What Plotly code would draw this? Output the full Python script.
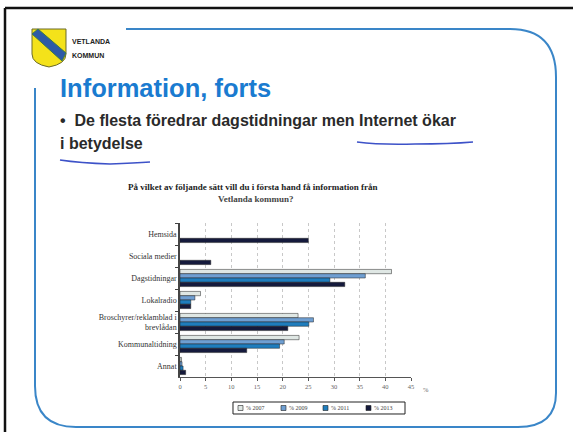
import plotly.graph_objects as go

W, H = 573, 432

categories = ["Hemsida", "Sociala medier", "Dagstidningar", "Lokalradio",
              "Broschyrer/reklamblad i<br>brevlådan", "Kommunaltidning", "Annat"]
years = ["% 2007", "% 2009", "% 2011", "% 2013"]
v2007 = [None, None, 41.2, 4.0, 23.0, 23.2, 0.3]
v2009 = [None, None, 36.1, 2.9, 26.0, 20.3, 0.4]
v2011 = [None, None, 29.2, 2.1, 25.1, 19.4, 0.6]
v2013 = [25.0, 6.0, 32.1, 2.1, 21.0, 13.0, 1.1]
series = [v2007, v2009, v2011, v2013]
colors = ["#dfe7e4", "#6f9fd2", "#1f7dbd", "#151a3c"]
xticks = [0, 5, 10, 15, 20, 25, 30, 35, 40, 45]


def px(x, y):
    return x / W, 1 - y / H


def path(pts_cmds):
    out = []
    for c in pts_cmds:
        if isinstance(c, str):
            out.append(c)
        else:
            a, b = px(*c)
            out.append(f"{a:.5f},{b:.5f}")
    return " ".join(out)


fig = go.Figure()
for name, vals, col in zip(years, series, colors):
    fig.add_trace(go.Bar(
        y=categories, x=vals, name=name, orientation="h",
        marker=dict(color=col, line=dict(color="#222222", width=0.5)),
    ))

x0, x1 = 180 / W, 411 / W
ytop, ybot = 1 - 223 / H, 1 - 377 / H

fig.update_layout(
    width=W, height=H,
    margin=dict(l=0, r=0, t=0, b=0),
    paper_bgcolor="white", plot_bgcolor="white",
    barmode="group", bargap=0.22, bargroupgap=0.0,
    font=dict(family="Liberation Serif", size=7, color="#333333"),
    xaxis=dict(domain=[x0, x1], range=[0, 45], tickvals=xticks,
               showgrid=True, gridcolor="#c8c8c8", griddash="dot", gridwidth=1,
               showline=True, linecolor="#555555", linewidth=1,
               ticks="outside", ticklen=3, tickcolor="#555555",
               tickfont=dict(size=6.5, color="#666666", family="Liberation Serif"),
               zeroline=False, automargin=False, fixedrange=True),
    yaxis=dict(domain=[ybot, ytop], autorange="reversed", type="category",
               showline=True, linecolor="#444444", linewidth=1.5,
               ticks="outside", ticklen=3, tickson="boundaries", tickcolor="#444444",
               tickfont=dict(size=8, color="#333333", family="Liberation Serif"),
               automargin=False, fixedrange=True, showgrid=False),
    showlegend=False,
)

shapes = []
# scan border
shapes.append(dict(type="line", xref="paper", yref="paper",
                   x0=5 / W, x1=5 / W, y0=0, y1=1 - 8 / H, line=dict(color="#111111", width=2.5)))
shapes.append(dict(type="line", xref="paper", yref="paper",
                   x0=5 / W, x1=1, y0=1 - 8 / H, y1=1 - 8 / H, line=dict(color="#111111", width=2.5)))
# blue rounded frame
frame = path(["M", (126, 29), "L", (510, 29), "Q", (556, 29), (556, 77), "L", (556, 393),
              "Q", (556, 427), (518, 427), "L", (76, 427), "Q", (35, 427), (35, 386), "L", (35, 88)])
shapes.append(dict(type="path", xref="paper", yref="paper", path=frame,
                   line=dict(color="#3a86c8", width=2)))
# handwritten underlines
shapes.append(dict(type="path", xref="paper", yref="paper",
                   path=path(["M", (357, 142), "Q", (380, 145), (415, 144), "Q", (450, 144), (473, 142)]),
                   line=dict(color="#3d52c8", width=1.6)))
shapes.append(dict(type="path", xref="paper", yref="paper",
                   path=path(["M", (60, 160), "Q", (80, 163), (110, 164), "Q", (135, 163), (150, 162)]),
                   line=dict(color="#3d52c8", width=1.6)))
# logo shield
shield = path(["M", (32, 29), "L", (66, 29), "L", (66, 54), "Q", (66, 64), (49, 67),
               "Q", (32, 64), (32, 54), "Z"])
shapes.append(dict(type="path", xref="paper", yref="paper", path=shield,
                   fillcolor="#f4e21a", line=dict(color="#6a6a2a", width=1)))
stripe = path(["M", (32, 34), "L", (38, 29), "L", (66, 53), "L", (62, 61), "Z"])
shapes.append(dict(type="path", xref="paper", yref="paper", path=stripe,
                   fillcolor="#2d5aa6", line=dict(color="#3b7a4a", width=1)))
# legend box and swatches
lb = path(["M", (233, 402), "L", (405, 402), "L", (405, 414), "L", (233, 414), "Z"])
shapes.append(dict(type="path", xref="paper", yref="paper", path=lb,
                   fillcolor="white", line=dict(color="#222222", width=1)))
leg_x = [238, 281, 323, 366]
for lx, col in zip(leg_x, colors):
    sq = path(["M", (lx, 405.5), "L", (lx + 5, 405.5), "L", (lx + 5, 410.5), "L", (lx, 410.5), "Z"])
    shapes.append(dict(type="path", xref="paper", yref="paper", path=sq,
                       fillcolor=col, line=dict(color="#222222", width=0.6)))
fig.update_layout(shapes=shapes)

ann = []


def text(x, y, s, size, color, family="Liberation Sans", anchor="left", bold=False):
    if bold:
        s = f"<b>{s}</b>"
    a, b = px(x, y)
    ann.append(dict(x=a, y=b, xref="paper", yref="paper", text=s, showarrow=False,
                    xanchor=anchor, yanchor="middle", font=dict(size=size, color=color, family=family)))


text(70, 42, "VETLANDA", 7, "#222222", bold=True)
text(70, 55, "KOMMUN", 7, "#222222", bold=True)
text(58, 88, "Information, forts", 25.5, "#1a7bd0", bold=True)
text(58, 121, "•  De flesta föredrar dagstidningar men Internet ökar", 16, "#2a2a2a", bold=True)
text(58, 144, "i betydelse", 16, "#2a2a2a", bold=True)
text(253, 187, "På vilket av följande sätt vill du i första hand få information från", 9,
     "#222222", family="Liberation Serif", anchor="center", bold=True)
text(255, 199, "Vetlanda kommun?", 9, "#444444", family="Liberation Serif", anchor="center", bold=True)
text(421, 389, "%", 6.5, "#666666", family="Liberation Serif")
for lx, name in zip(leg_x, years):
    text(lx + 6, 408, name, 6, "#444444", family="Liberation Serif")
fig.update_layout(annotations=ann)

fig.write_html("out.html", config={"displayModeBar": False},
               post_script="document.body.style.margin='0';")
